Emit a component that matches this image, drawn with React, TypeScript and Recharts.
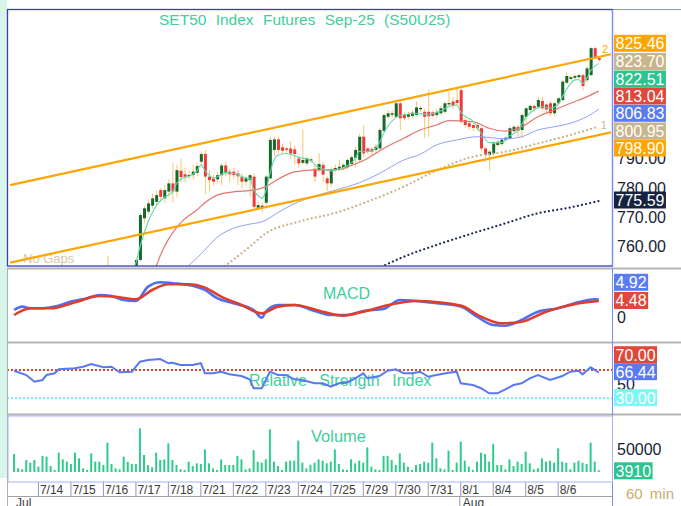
import React from 'react';
import { ComposedChart, Bar, Line, XAxis, YAxis, ReferenceLine } from 'recharts';

const FONT = '"Liberation Sans", Arial, sans-serif';
const N = 149;

const dayStarts = [7, 15, 23, 31, 39, 47, 55, 63, 71, 79, 87, 95, 103, 111, 119, 127, 135];
const dayLabels = ['7/14', '7/15', '7/16', '7/17', '7/18', '7/21', '7/22', '7/23', '7/24', '7/25', '7/29', '7/30', '7/31', '8/1', '8/4', '8/5', '8/6'];
const monthStarts = [1, 111];
const monthLabels = ['Jul', 'Aug'];

// OHLC per 60-min bar, slot 1..145  [open, high, low, close]
const ohlc: number[][] = [
  [739,741,738,740.5],[740.5,741.5,739.5,740],[740,741,739,740.8],[740.8,743,740,742.5],[742.5,743.5,741,741.8],[741.8,744,741.5,743.5],
  [743.5,745,742.5,744.2],[744.2,747,743.8,746.5],[746.5,748,745,745.5],[745.5,747,744.5,746.8],[746.8,747.5,745.8,746.2],[746.2,749.5,746,749],[749,750,747,747.8],[747.8,749,746.5,748.5],
  [748.5,750.5,747.5,749.8],[749.8,752,748.5,751.2],[751.2,752.5,749.8,750.5],[750.5,751.5,749.5,750.8],[750.8,751.5,750,751],[751,753,749,749.5],[749.5,751,748.5,750.6],[750.6,752,749.8,751.5],
  [751.5,753,750.5,752.2],[752.2,757,750.5,751],[751,752,749,749.8],[749.8,751.5,749,750.9],[750.9,752,750,751.5],[751.5,752.5,750.5,751.2],[751.2,752.8,750.8,752.3],[752.3,753,751.5,752.5],
  [752.5,756,752,755.5],[755.5,771.5,755,770.8],[769.7,774,768,773.1],[772,776,771,774.8],[774,778,773,776.5],[775.3,779,774,777.6],[779.3,780,775.5,777],[776.5,781,775,779.3],
  [778.8,783,777,781.6],[781.6,788.5,775,778.8],[778.8,788,777,786.1],[785.9,790,782,783.7],[784.7,787,782,783.9],[784.3,786,783,784.5],[784.4,788,783,785.6],[785.2,788.5,784,787.5],
  [789,792.5,788,791.6],[791.6,793,778,783.9],[783.9,786,779,782.7],[783.2,784.5,781,782.2],[783,785.5,782,784.4],[784.4,788.5,781,787.7],[787.7,789,784,785],[785.6,786.5,782,784.7],
  [785.6,787,783,784.4],[785,786,781,784],[783.7,785,780,782.2],[782.2,784,781,783.3],[782.7,785,777,784.4],[783.9,785,773,773.6],[773.3,775.5,772.5,774.2],[773.8,775,771.6,774],
  [775,784.5,774,783.9],[783.3,797.5,783,796.4],[793,797.5,791,796.6],[796.6,797.5,792,793],[793.9,795,791.5,792.7],[793.5,794,792,793],[793.5,796,790,791.8],[793.2,794.5,788,791.6],
  [790.1,791,787,788.4],[788.6,800,788,789.6],[788.4,791,787.5,790.1],[789.5,790.5,788.5,789.8],[786.6,788,782,783.9],[786.1,792,785.5,788.2],[787.9,789,782,784.6],[783.3,784,779,781.6],
  [781.6,787,780.5,786.1],[786.5,788,785.5,786.8],[786.4,789.7,786,787.3],[786.7,788.5,786,787.9],[787.1,790,786.5,789.6],[788.2,791,787.5,790.5],[790.3,794,787,793],[789.6,798.5,789,797.5],
  [797.5,801.5,790.5,791.8],[793.5,794,791.5,792.4],[793.3,794,791,792.4],[793,795,792,794.1],[793.5,800.5,793,799.8],[799.5,805.5,799,804.9],[804.3,806.5,803.5,805.5],[805,806.5,804,805.5],
  [804.3,809.5,804,808.9],[808.9,809.5,799.8,803.8],[804.9,806,803,803.8],[804.3,806,803.5,805.2],[804.6,806.5,804,805.7],[804.9,809.5,804.5,807.5],[807,808,806,807.3],[806,807,797,804.3],
  [806,813.4,797.5,804.5],[805.8,806.5,804,804.6],[804.9,807,804,806],[805.5,808,805,807.2],[806,809.5,805.5,808.9],[808.5,812.8,807.5,809],[809.5,811,807,808],[810,814.5,808,809],
  [813.4,814.5,802,802.6],[803.2,804,800.5,801.5],[802.1,803,800,800.9],[801.5,802,799.5,800.5],[801.5,802.5,799.5,800.4],[800.4,801,792.5,793.5],[793.5,794,789,791.3],[791.3,793,786,792.4],
  [791.8,796,791,795.2],[794.7,796.5,794,795.8],[795,797,794.5,796.5],[796.4,797.5,795.5,797.2],[796.9,801,796.5,800.4],[799.4,801.5,799,800.9],[800.9,801.5,797,799.5],[799.8,805.5,797,804.9],
  [804.3,807.5,802.5,807.2],[806.6,808.5,806,808],[808,808.5,806,807.2],[807.7,811,807,810],[809.7,811,806.5,807.2],[808.5,809,805.5,806.8],[808.9,809.5,804.5,805.5],[805.5,809.5,804.5,808.9],
  [808.9,811,808.5,810.6],[810,817,809.5,816.3],[815.9,819.5,815.5,818.2],[817.2,818.5,816.5,817.8],[817.6,819,817,818.2],[817.8,819,817,818.5],[818.5,819,813.4,814.8],[816.8,821.5,816,820.8],
  [818.5,828,818,827.7],[827.7,828.2,824,824.7],[824.3,824.8,823,823.7],
];

// Volume per bar, slot 1..145
const volume: number[] = [
  39600,8100,5900,26400,20500,26400,
  11700,35200,33800,13200,4400,42600,27900,22800,
  17600,42600,30100,8100,4400,41100,22800,22800,
  15400,64600,17600,8100,5900,33800,22800,17600,
  17600,96100,37400,15400,10300,42600,26400,27900,
  63100,26400,15400,5900,4400,22800,13200,19100,
  17600,49900,19100,8100,4400,27900,15400,15400,
  15400,35200,27900,5900,8100,48400,22800,20500,
  27900,94000,22800,13200,4400,22800,25000,25000,
  69000,20500,8100,16000,20500,27900,25000,19100,
  22800,49900,17600,5900,4400,27900,19100,25000,
  20500,54300,11700,5900,4400,35200,35200,26400,
  15400,41100,20500,11700,4400,15400,17600,22800,
  20500,64600,30100,8100,5900,47000,4400,20500,
  66800,25000,11700,4400,22800,42600,39600,22800,
  61700,15400,15400,5900,27900,13200,22800,17600,
  44800,19100,5900,8100,30100,22800,25000,20500,
  52100,22800,20500,5900,20500,25000,20500,17600,
  64600,22800,3910,
];

// Indicator readings [slot, value]
const emaFast: [number, number][] = [[30,752],[31,754.5],[32,760],[33,764.5],[34,768.5],[35,771.5],[36,774],[38,776.8],[40,778.7],[41,781.5],[42,783],[44,784],[46,785.8],[47,787.9],[48,786],[49,784.5],[50,783.5],[51,783.8],[53,785.3],[55,785],[58,783.5],[59,783.4],[60,779.5],[61,777.5],[62,776.5],[63,779],[64,785],[65,789.5],[66,791.3],[68,791.8],[71,790.5],[74,789.6],[75,788],[77,786.5],[79,785.8],[81,786.5],[83,787.6],[85,790],[86,792.5],[87,792.4],[89,792.6],[91,795.5],[92,798.6],[93,801],[95,804],[97,805],[100,805.4],[103,805.2],[106,806.3],[108,807.7],[110,808.3],[111,806],[112,804.5],[114,802.8],[116,798.8],[118,795.5],[121,795.5],[123,797.8],[125,799.5],[127,804],[129,806.6],[131,807.7],[133,807.2],[135,808.5],[136,811],[137,813.5],[139,816.8],[140,817],[141,815.7],[142,817.3],[143,820],[145,822.51]];
const emaMid: [number, number][] = [[28,746],[31,748.5],[34,751],[36,753.5],[37,757],[39,762.5],[41,766.5],[43,769.5],[46,772.5],[48,775],[51,777.6],[55,778.7],[60,779.3],[63,780.5],[66,783],[70,785.5],[75,786.2],[81,786.3],[84,787.7],[88,790.1],[92,793.5],[97,797],[101,799.8],[105,801.5],[108,803],[114,802.6],[118,800.4],[122,799.4],[126,800.9],[130,804.3],[134,806.6],[138,808.9],[142,811.1],[145,813.04]];
const emaSlow: [number, number][] = [[38,745],[41,749.5],[44,753.6],[47,757.5],[51,763.2],[55,766.3],[59,767.7],[62,768.5],[67,772.5],[71,775.3],[75,777.3],[81,779.6],[86,781.8],[91,785],[97,789.6],[101,791.5],[105,794.7],[110,796.4],[115,797.5],[122,796.8],[126,797.5],[130,799.8],[134,800.9],[138,802.1],[142,804.3],[145,806.83]];
const maLong: [number, number][] = [[46,747],[53,753.5],[59,760],[63,764.6],[71,768.5],[81,771.9],[89,775.9],[97,780.5],[105,786],[114,790.7],[122,792.4],[130,795.2],[138,798.1],[145,800.95]];
const maVeryLong: [number, number][] = [[86,749],[92,753.5],[97,756.6],[105,760.6],[114,764.6],[122,768],[130,771.4],[138,773.4],[145,775.59]];
const channelUpper: [number, number][] = [[0,781.0],[148,825.6]];
const channelLower: [number, number][] = [[0,754.6],[148,799.0]];
const macdLine: [number, number][] = [[1,1.97],[3,2.92],[5,2.47],[8,2.47],[11,2.92],[15,4.33],[19,5.28],[22,6.18],[25,5.9],[28,4.78],[31,4.5],[34,8.52],[37,9.78],[40,9.5],[45,8.8],[48,7.6],[51,5.28],[55,3.84],[60,1.97],[62,-0.2],[63,1.5],[66,3.37],[70,3.37],[75,1.69],[79,0.56],[83,0.56],[87,1.69],[92,2.25],[96,4.78],[100,4.5],[105,3.84],[111,2.92],[115,0.08],[119,-2.25],[122,-2.44],[126,-0.84],[130,1.5],[135,2.44],[139,3.84],[144,4.97],[145,4.92]];
const signalLine: [number, number][] = [[1,0.56],[5,2.47],[10,2.47],[16,4.13],[22,5.9],[26,5.7],[31,4.97],[35,7.58],[39,9.18],[44,9.18],[48,8.24],[52,5.7],[57,3.37],[62,1.03],[66,2.92],[70,3.37],[77,1.5],[82,0.37],[87,1.5],[94,3.6],[100,4.5],[111,3.2],[116,0.08],[121,-1.77],[126,-1.32],[132,1.5],[139,3.6],[145,4.48]];
const rsiLine: [number, number][] = [[1,69],[4,62.9],[6,53.5],[8,55.9],[9,62.9],[11,65.3],[12,71],[16,72.4],[18,74.7],[20,78.5],[23,73.8],[25,74.7],[27,66.8],[30,67.6],[32,81.7],[34,84.1],[37,85.5],[39,79.5],[40,80.3],[42,77.1],[45,77.1],[47,79.5],[48,65.3],[50,65.3],[52,67.6],[54,63.9],[57,61.5],[59,56.9],[60,44.2],[62,44.2],[64,67.6],[66,62.9],[68,62.9],[70,56.9],[72,55.9],[75,51.2],[77,51.2],[79,46.4],[81,51.2],[83,52.1],[85,58.3],[87,65.3],[88,58.3],[91,61.5],[93,69],[95,71],[97,65.3],[99,65.3],[101,67.6],[103,60.5],[105,62.9],[108,66.2],[110,67.6],[111,51.2],[114,48.8],[116,44.2],[118,37.1],[120,37.1],[122,42.7],[124,48.8],[126,51.2],[128,58.3],[130,62.9],[133,55.9],[136,61.5],[138,67.6],[140,69],[141,63.9],[143,73.8],[145,66.44]];

// Right-hand value tags
const mainTags = [
  { text: '825.46', bg: '#ffa500', y: 43.3 },
  { text: '823.70', bg: '#c8b58c', y: 61.5 },
  { text: '822.51', bg: '#2ec48f', y: 79 },
  { text: '813.04', bg: '#e0483b', y: 96 },
  { text: '806.83', bg: '#5b7bf3', y: 113.3 },
  { text: '800.95', bg: '#c8b58c', y: 131 },
  { text: '798.90', bg: '#ffa500', y: 148 },
  { text: '775.59', bg: '#17223f', y: 200 },
];
const macdTags = [
  { text: '4.92', bg: '#5b7bf3', y: 282.3 },
  { text: '4.48', bg: '#e0483b', y: 300.5 },
];
const rsiTags = [
  { text: '70.00', bg: '#e0483b', y: 354.7 },
  { text: '66.44', bg: '#5b7bf3', y: 371.7 },
  { text: '30.00', bg: '#7ff6f6', y: 397.7 },
];
const volTags = [{ text: '3910', bg: '#2ec48f', y: 470.8 }];

const toMap = (a: [number, number][]) => new Map(a);

const rows = (() => {
  const m = {
    g: toMap(emaFast), r: toMap(emaMid), b: toMap(emaSlow), t: toMap(maLong), n: toMap(maVeryLong),
    cu: toMap(channelUpper), cl: toMap(channelLower), macd: toMap(macdLine), sig: toMap(signalLine), rsi: toMap(rsiLine),
  };
  return Array.from({ length: N }, (_, i) => {
    const c = i >= 1 && i <= ohlc.length ? ohlc[i - 1] : null;
    const row: any = {
      i,
      hl: c ? [c[2], c[1]] : null,
      o: c ? c[0] : null, h: c ? c[1] : null, l: c ? c[2] : null, c: c ? c[3] : null,
      vol: i >= 1 && i <= volume.length ? volume[i - 1] : null,
    };
    (Object.keys(m) as (keyof typeof m)[]).forEach((k) => { row[k] = m[k].has(i) ? m[k].get(i) : null; });
    return row;
  });
})();

const Candle = (props: any) => {
  const { x, y, width, height, payload } = props;
  if (!payload || payload.o == null) return null;
  const { o, h, l, c } = payload;
  const top = Math.min(y, y + height);
  const hgt = Math.abs(height);
  const py = (v: number) => (h === l ? top : top + ((h - v) / (h - l)) * hgt);
  const cx = x + width / 2;
  const yo = py(o);
  const yc = py(c);
  const doji = Math.abs(c - o) < 0.35;
  const fill = doji ? '#2b3a2b' : c > o ? '#17692a' : '#ef3a3a';
  const bt = Math.min(yo, yc);
  const bh = Math.max(Math.abs(yc - yo), 1.2);
  return (
    <g>
      <line x1={cx} x2={cx} y1={top} y2={top + hgt} stroke="#f7c46e" strokeWidth={1} />
      <rect x={x} y={bt} width={width} height={bh} fill={fill} />
    </g>
  );
};

const AxisTick = (props: any) => {
  const { x, y, payload } = props;
  const v = payload.value;
  const di = dayStarts.indexOf(v);
  const mi = monthStarts.indexOf(v);
  return (
    <g>
      {di >= 0 && <line x1={x} x2={x} y1={y} y2={y + 14} stroke="#8f97c8" strokeWidth={1} />}
      {di >= 0 && (
        <text x={x + 1.5} y={y + 12} fontSize={12} fill="#3a3a3a" fontFamily={FONT}>{dayLabels[di]}</text>
      )}
      {mi >= 0 && (
        <text x={x + 2} y={y + 24.5} fontSize={12} fill="#3a3a3a" fontFamily={FONT}>{monthLabels[mi]}</text>
      )}
      {mi > 0 && <line x1={x - 1} x2={x - 1} y1={y + 14} y2={y + 26} stroke="#9a9a9a" strokeWidth={1} />}
    </g>
  );
};

const Tag = ({ text, bg, y }: { text: string; bg: string; y: number }) => {
  const w = text.length * 8.9 - (text.includes('.') ? 4.45 : 0) + 3;
  return (
    <g>
      <rect x={614} y={y - 8.5} width={w} height={17} fill={bg} />
      <text x={615.5} y={y + 5.8} fill="#ffffff" fontSize={16} fontFamily={FONT}>{text}</text>
    </g>
  );
};

const label: React.CSSProperties = {
  position: 'absolute', color: '#3fcf9b', fontFamily: FONT, whiteSpace: 'nowrap', lineHeight: '18px',
};
const chartBox = (top: number): React.CSSProperties => ({ position: 'absolute', left: 0, top });
const axisTick = { fill: '#161e36', fontSize: 16, fontFamily: FONT };

export default function App() {
  return (
    <div style={{ position: 'absolute', left: 0, top: 0, width: 681, height: 506, background: '#ffffff', overflow: 'hidden', fontFamily: FONT }}>
      <div style={{ position: 'absolute', left: 0, top: 0, width: 7, height: 478, background: '#d8f5ea' }} />

      <div style={{ ...label, left: 159, top: 11, fontSize: 15.5, wordSpacing: 5 }}>SET50 Index Futures Sep-25 (S50U25)</div>
      <div style={{ ...label, left: 23, top: 250, fontSize: 13, color: '#d8caa4' }}>No Gaps</div>
      <div style={{ ...label, left: 323, top: 285, fontSize: 16 }}>MACD</div>
      <div style={{ ...label, left: 249, top: 372, fontSize: 16, wordSpacing: 8 }}>Relative Strength Index</div>
      <div style={{ ...label, left: 311, top: 427, fontSize: 16.5 }}>Volume</div>

      {/* Price panel */}
      <div style={chartBox(10)}>
        <ComposedChart width={681} height={256} data={rows} margin={{ top: 0, right: 0, bottom: 0, left: 8 }}>
          <XAxis dataKey="i" hide scale="band" />
          <YAxis orientation="right" width={68} domain={[753.44, 840.7]} allowDataOverflow ticks={[760, 770, 780, 790]}
            tickFormatter={(v: number) => v.toFixed(2)} tickLine={false} axisLine={false} tickSize={0} tickMargin={4} tick={axisTick} />
          <Line dataKey="n" type="monotone" stroke="#1c2b55" strokeWidth={2.2} strokeDasharray="0.01 4.2" strokeLinecap="round" dot={false} connectNulls isAnimationActive={false} />
          <Line dataKey="t" type="monotone" stroke="#c6b086" strokeWidth={2.2} strokeDasharray="0.01 4.2" strokeLinecap="round" dot={false} connectNulls isAnimationActive={false} />
          <Line dataKey="b" type="monotone" stroke="#8fa3f7" strokeWidth={1} dot={false} connectNulls isAnimationActive={false} />
          <Line dataKey="r" type="monotone" stroke="#e4766c" strokeWidth={1.2} dot={false} connectNulls isAnimationActive={false} />
          <Line dataKey="cu" type="linear" stroke="#ffa500" strokeWidth={2.2} dot={false} connectNulls isAnimationActive={false} />
          <Line dataKey="cl" type="linear" stroke="#ffa500" strokeWidth={2.2} dot={false} connectNulls isAnimationActive={false} />
          <Bar dataKey="hl" barSize={3} shape={<Candle />} isAnimationActive={false} />
          <Line dataKey="g" type="monotone" stroke="#62d8ae" strokeWidth={1.1} dot={false} connectNulls isAnimationActive={false} />
        </ComposedChart>
      </div>

      {/* MACD panel */}
      <div style={chartBox(270)}>
        <ComposedChart width={681} height={70} data={rows} margin={{ top: 0, right: 0, bottom: 0, left: 8 }}>
          <XAxis dataKey="i" hide scale="band" />
          <YAxis orientation="right" width={68} domain={[-6.46, 13.2]} allowDataOverflow ticks={[0]}
            tickLine={false} axisLine={false} tickSize={0} tickMargin={4} tick={axisTick} />
          <Line dataKey="macd" type="monotone" stroke="#4f6ff2" strokeWidth={2.6} dot={false} connectNulls isAnimationActive={false} />
          <Line dataKey="sig" type="monotone" stroke="#df3e2c" strokeWidth={2.6} dot={false} connectNulls isAnimationActive={false} />
        </ComposedChart>
      </div>

      {/* RSI panel */}
      <div style={chartBox(344)}>
        <ComposedChart width={681} height={68} data={rows} margin={{ top: 0, right: 0, bottom: 0, left: 8 }}>
          <XAxis dataKey="i" hide scale="band" />
          <YAxis orientation="right" width={68} domain={[10.68, 106.72]} allowDataOverflow ticks={[50]}
            tickLine={false} axisLine={false} tickSize={0} tickMargin={4} tick={axisTick} />
          <ReferenceLine y={70} stroke="#e8402e" strokeWidth={2} strokeDasharray="2 2" />
          <ReferenceLine y={30} stroke="#74f0f4" strokeWidth={2} strokeDasharray="2 2" />
          <Line dataKey="rsi" type="linear" stroke="#5a78f0" strokeWidth={2} dot={false} connectNulls isAnimationActive={false} />
        </ComposedChart>
      </div>

      {/* Volume panel */}
      <div style={chartBox(417)}>
        <ComposedChart width={681} height={89} data={rows} margin={{ top: 0, right: 0, bottom: 0, left: 8 }}>
          <XAxis dataKey="i" scale="band" height={24} ticks={[1, ...dayStarts]} interval={0} tickLine={false} axisLine={false}
            tickSize={0} tickMargin={0} tick={<AxisTick />} />
          <YAxis orientation="right" width={68} domain={[-22026, 121145]} allowDataOverflow ticks={[50000]}
            tickLine={false} axisLine={false} tickSize={0} tickMargin={4} tick={axisTick} />
          <Bar dataKey="vol" barSize={2} fill="#2ecb8d" isAnimationActive={false} />
        </ComposedChart>
      </div>

      {/* frames and tags */}
      <svg width={681} height={506} style={{ position: 'absolute', left: 0, top: 0, pointerEvents: 'none' }}>
        <line x1={7} x2={681} y1={9.5} y2={9.5} stroke="#8d92c8" strokeWidth={1} />
        <rect x={7.5} y={9.5} width={605} height={256.5} fill="none" stroke="#3838d2" strokeWidth={1.3} />
        <line x1={612.5} x2={612.5} y1={9.5} y2={266} stroke="#7b8cf5" strokeWidth={1} />
        <line x1={7} x2={681} y1={268.5} y2={268.5} stroke="#b4b4b4" strokeWidth={2} />
        <line x1={7} x2={681} y1={342.5} y2={342.5} stroke="#b4b4b4" strokeWidth={2} />
        <line x1={7} x2={681} y1={414.5} y2={414.5} stroke="#b4b4b4" strokeWidth={2} />
        <line x1={7.5} x2={7.5} y1={268} y2={506} stroke="#b0b0b0" strokeWidth={1} />
        <line x1={612.5} x2={612.5} y1={268} y2={506} stroke="#7b8cf5" strokeWidth={1} />
        <rect x={8} y={416} width={604.5} height={66} fill="none" stroke="#aab2f2" strokeWidth={1} />
        <line x1={7.5} x2={612.5} y1={496.5} y2={496.5} stroke="#a0a0a0" strokeWidth={1} />
        <text x={602} y={53} fontSize={11} fill="#ffa500" fontFamily={FONT}>2</text>
        <text x={601} y={129} fontSize={10} fill="#c8b58c" fontFamily={FONT}>1</text>
        {[...mainTags, ...macdTags, ...rsiTags, ...volTags].map((t) => <Tag key={t.text} {...t} />)}
        <text x={626} y={499} fontSize={15} fill="#c9ad72" fontFamily={FONT} style={{ wordSpacing: 3 }}>60 min</text>
      </svg>
    </div>
  );
}
